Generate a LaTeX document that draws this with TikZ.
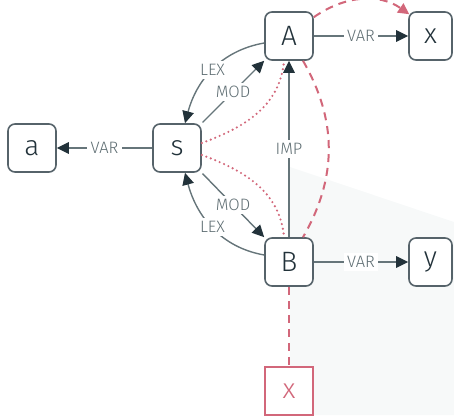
\documentclass[tikz,border=0pt]{standalone}
\usepackage{fontspec}
\setmainfont{Fira Sans}[UprightFont=* Light]
\usetikzlibrary{arrows.meta}
\definecolor{bordc}{HTML}{56636A}
\definecolor{linec}{HTML}{66757A}
\definecolor{darkc}{HTML}{22323A}
\definecolor{labc}{HTML}{5F6E73}
\definecolor{redc}{HTML}{D2677A}
\definecolor{bgc}{HTML}{F7F9F9}
\tikzset{
  nbox/.style={draw=bordc, line width=1.6pt, rounded corners=7pt, minimum width=48pt, minimum height=48pt, inner sep=0pt, font=\fontsize{28}{28}\selectfont, text=darkc, fill=white},
  nboxn/.style={nbox, minimum width=43pt},
  redbox/.style={draw=redc, line width=1.2pt, minimum width=48pt, minimum height=48pt, inner sep=0pt, font=\fontsize{28}{28}\selectfont, text=redc, fill=white},
  edge/.style={draw=linec, line width=1.4pt, -{Triangle[length=12pt,width=11.5pt]}, arrows={[color=darkc]}},
  lab/.style={fill=white, text=labc, font=\fontsize{16.5}{16.5}\selectfont, inner sep=3.5pt},
  reddot/.style={draw=redc, line width=2.4pt, line cap=round, dash pattern=on 0pt off 4.8pt},
  reddash/.style={draw=redc, line width=2pt, dash pattern=on 8pt off 6pt},
}
\begin{document}
\begin{tikzpicture}[x=1pt,y=1pt]
\useasboundingbox (0,0) rectangle (454,415);
\fill[bgc] (290,248) -- (454,193) -- (454,0) -- (290,0) -- cycle;
\node[nbox] (A) at (289,379) {A};
\node[nboxn] (xt) at (430.5,379) {x};
\node[nbox] (s) at (177,267) {s};
\node[nbox] (a) at (32,267) {a};
\node[nbox] (B) at (289,153) {B};
\node[nboxn] (y) at (430.5,153) {y};
\node[redbox] (xb) at (289,24) {x};
% VAR edges
\draw[edge] (A.east) -- node[lab] {VAR} (xt.west);
\draw[edge] (s.west) -- node[lab] {VAR} (a.east);
\draw[edge] (B.east) -- node[lab] {VAR} (y.west);
% IMP
\draw[edge] (B.north) -- node[lab, pos=0.5] {IMP} (A.south);
% MOD
\draw[edge, shorten <=1pt] (s.45) -- node[lab] {MOD} (A.225);
\draw[edge, shorten <=1pt] (s.-45) -- node[lab] {MOD} (B.135);
% LEX
\draw[edge] ([yshift=-7pt]A.west) to[out=190, in=75] node[lab] {LEX} ([xshift=8pt]s.north);
\draw[edge] ([yshift=7pt]B.west) to[out=170, in=-75] node[lab] {LEX} ([xshift=8pt]s.south);
% red dotted
\draw[reddot] ([yshift=5pt]s.east) to[out=20, in=-95] ([xshift=-5pt]A.south);
\draw[reddot] ([yshift=-7pt]s.east) to[out=-20, in=95] ([xshift=-5pt]B.north);
% red dashed
\draw[reddash] ([xshift=14pt]A.south) to[out=-60, in=60] ([xshift=14pt]B.north);
\draw[reddash, -{Triangle[length=11pt,width=11pt]}] ([yshift=-6pt]A.north east) to[out=35, in=145] ([xshift=1pt,yshift=-3pt]xt.north west);
\draw[reddash] (B.south) -- (xb.north);
\end{tikzpicture}
\end{document}
